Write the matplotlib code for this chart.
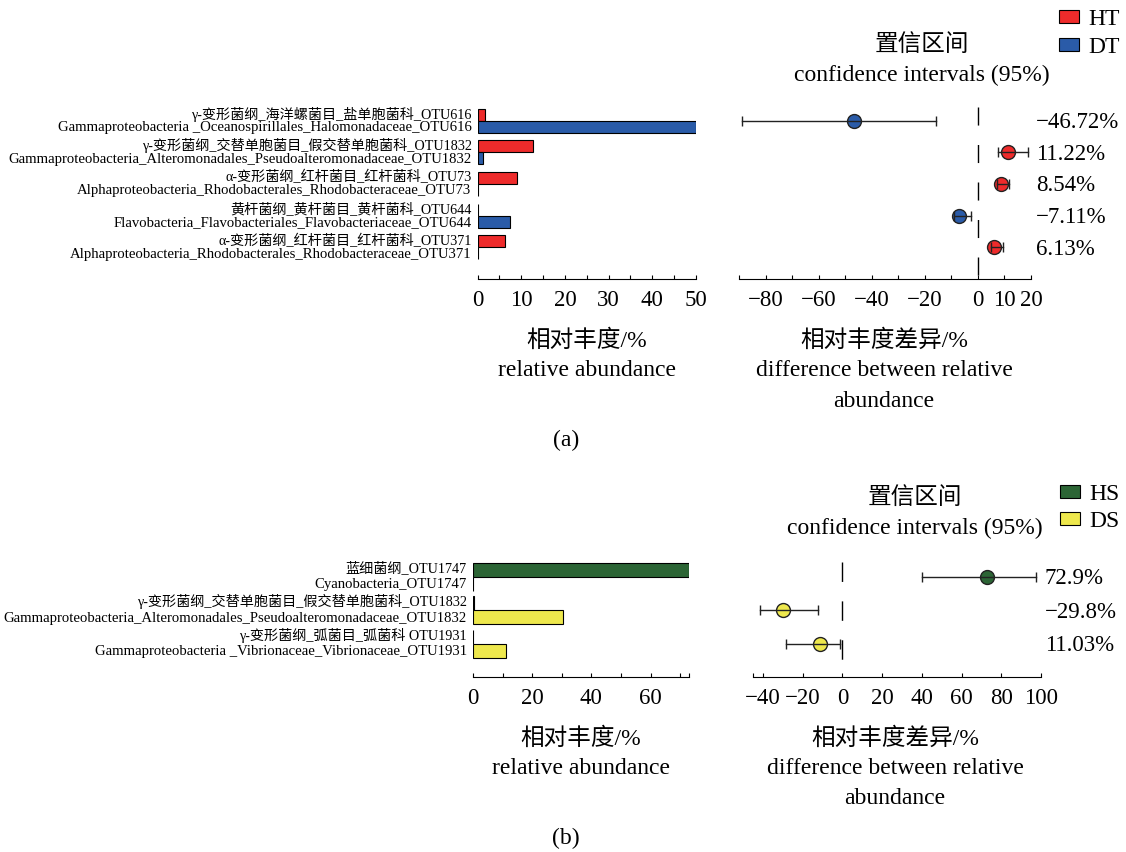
import matplotlib
matplotlib.use("Agg")
import matplotlib.pyplot as plt
from matplotlib.patches import Patch

plt.rcParams['font.family'] = ['Liberation Serif', 'Noto Sans CJK SC']
plt.rcParams['axes.unicode_minus'] = True

W, H = 1126, 852

# ---- panel (a) data
a_cn = ["γ-变形菌纲_海洋螺菌目_盐单胞菌科_OTU616",
        "γ-变形菌纲_交替单胞菌目_假交替单胞菌科_OTU1832",
        "α-变形菌纲_红杆菌目_红杆菌科_OTU73",
        "黄杆菌纲_黄杆菌目_黄杆菌科_OTU644",
        "α-变形菌纲_红杆菌目_红杆菌科_OTU371"]
a_en = ["Gammaproteobacteria _Oceanospirillales_Halomonadaceae_OTU616",
        "Gammaproteobacteria_Alteromonadales_Pseudoalteromonadaceae_OTU1832",
        "Alphaproteobacteria_Rhodobacterales_Rhodobacteraceae_OTU73",
        "Flavobacteria_Flavobacteriales_Flavobacteriaceae_OTU644",
        "Alphaproteobacteria_Rhodobacterales_Rhodobacteraceae_OTU371"]
a_ht = [1.8, 12.7, 9.0, 0.0, 6.4]
a_dt = [50.0, 1.2, 0.0, 7.4, 0.0]
a_diff = [-46.72, 11.22, 8.54, -7.11, 6.13]
a_lo = [-89.0, 7.6, 7.2, -8.9, 4.8]
a_hi = [-15.7, 19.0, 11.8, -2.6, 9.4]
a_txt = ["−46.72%", "11.22%", "8.54%", "−7.11%", "6.13%"]

# ---- panel (b) data
b_cn = ["蓝细菌纲_OTU1747",
        "γ-变形菌纲_交替单胞菌目_假交替单胞菌科_OTU1832",
        "γ-变形菌纲_弧菌目_弧菌科 OTU1931"]
b_en = ["Cyanobacteria_OTU1747",
        "Gammaproteobacteria_Alteromonadales_Pseudoalteromonadaceae_OTU1832",
        "Gammaproteobacteria _Vibrionaceae_Vibrionaceae_OTU1931"]
b_hs = [72.9, 0.5, 0.0]
b_ds = [0.0, 30.4, 11.1]
b_diff = [72.9, -29.8, -11.03]
b_lo = [39.9, -41.4, -28.2]
b_hi = [97.7, -12.2, -1.4]
b_txt = ["72.9%", "−29.8%", "11.03%"]

RED, BLUE = '#EE2B2B', '#2A5BA8'
GREEN, YELLOW = '#2C6535', '#EEE84D'

fig = plt.figure(figsize=(W / 100, H / 100), dpi=100)


def add_ax(x0, y0, x1, y1):
    ax = fig.add_axes([x0 / W, 1 - y1 / H, (x1 - x0) / W, (y1 - y0) / H])
    for s in ['top', 'right', 'left']:
        ax.spines[s].set_visible(False)
    ax.tick_params(axis='y', left=False, labelleft=False)
    ax.tick_params(axis='x', direction='in', length=3, width=0.8,
                   labelsize=16.5, pad=8)
    return ax


def ftxt(x, y, s, **kw):
    fig.text(x / W, 1 - y / H, s, ha='center', va='center', **kw)


def panel(geo, cn, en, g1, g2, diff, lo, hi, txt, c1, c2, names, bh,
          lticks, lt_labels, lxlim, rticks, rt_labels, rxlim, dash):
    n = len(cn)
    rows = list(range(n))
    axl = add_ax(*geo['left'])
    axl.barh([r - bh / 2 for r in rows], g1, height=bh, color=c1,
             edgecolor='black', linewidth=0.8)
    axl.barh([r + bh / 2 for r in rows], g2, height=bh, color=c2,
             edgecolor='black', linewidth=0.8)
    axl.set_ylim(n, -0.5)
    axl.set_xlim(*lxlim)
    axl.set_xticks(lticks, lt_labels)
    wpx = geo['left'][2] - geo['left'][0]
    off = geo['lab_off']
    for r in rows:
        axl.text(-6 / wpx, r - off, cn[r], transform=axl.get_yaxis_transform(),
                 ha='right', va='center', fontsize=10.2)
        axl.text(-6 / wpx, r + off, en[r], transform=axl.get_yaxis_transform(),
                 ha='right', va='center', fontsize=10.6)

    axr = add_ax(*geo['right'])
    axr.set_ylim(n, -0.5)
    axr.set_xlim(*rxlim)
    axr.set_xticks(rticks, rt_labels)
    axr.plot([0, 0], [-0.45, n], color='black', lw=1, linestyle=(0, dash),
             zorder=1)
    tr = matplotlib.transforms.blended_transform_factory(fig.transFigure,
                                                         axr.transData)
    for r in rows:
        col = c1 if diff[r] > 0 else c2
        axr.plot(diff[r], r, 'o', ms=10, mfc=col, mec='#222222', mew=1,
                 zorder=2)
        axr.plot([lo[r], hi[r]], [r, r], color='#222222', lw=1, zorder=3)
        axr.plot([lo[r], hi[r]], [r, r], '|', color='#222222', ms=7.5,
                 mew=1, zorder=3)
        axr.text(geo['pct_x'] / W, r + 0.06, txt[r], transform=tr,
                 ha='left', va='center', fontsize=16.5)

    ty = geo['title_y']
    ftxt(geo['title_x'], ty, '置信区间', fontsize=17)
    ftxt(geo['title_x'], ty + 30, 'confidence intervals (95%)', fontsize=17)
    fig.legend(handles=[Patch(facecolor=c1, edgecolor='black', lw=0.8, label=names[0]),
                        Patch(facecolor=c2, edgecolor='black', lw=0.8, label=names[1])],
               loc='upper right', bbox_to_anchor=(geo['leg'][0] / W, 1 - geo['leg'][1] / H),
               frameon=False, fontsize=17, handlelength=0.85, handleheight=0.45,
               handletextpad=0.42, labelspacing=geo['leg_sp'], borderpad=0,
               borderaxespad=0)

    ly = geo['lab_y']
    lx = (geo['left'][0] + geo['left'][2]) / 2
    ftxt(lx, ly, '相对丰度/%', fontsize=17)
    ftxt(lx, ly + 30, 'relative abundance', fontsize=17)
    ftxt(geo['rlab_x'], ly, '相对丰度差异/%', fontsize=17)
    ftxt(geo['rlab_x'], ly + 30, 'difference between relative', fontsize=17)
    ftxt(geo['rlab_x'], ly + 60, 'abundance', fontsize=17)
    ftxt(566, geo['tag_y'], geo['tag'], fontsize=17)


geo_a = dict(left=(477.5, 105, 696, 279), right=(739, 105, 1031, 279),
             pct_x=1036, title_x=922, title_y=45, leg=(1120, 9), leg_sp=0.3,
             lab_y=341, rlab_x=884, tag_y=440, tag='(a)', lab_off=0.21)
panel(geo_a, a_cn, a_en, a_ht, a_dt, a_diff, a_lo, a_hi, a_txt, RED, BLUE,
      ['HT', 'DT'], 0.38,
      list(range(0, 51, 5)),
      [str(v) if v % 10 == 0 else '' for v in range(0, 51, 5)], (0, 50),
      list(range(-90, 21, 10)),
      ['', '−80', '', '−60', '', '−40', '', '−20', '', '0', '10', '20'],
      (-90, 20), (13, 14))

geo_b = dict(left=(473, 560, 689, 677), right=(753, 560, 1041, 677),
             pct_x=1045, title_x=915, title_y=498, leg=(1120, 484), leg_sp=0.25,
             lab_y=739, rlab_x=895, tag_y=838, tag='(b)', lab_off=0.245)
panel(geo_b, b_cn, b_en, b_hs, b_ds, b_diff, b_lo, b_hi, b_txt, GREEN, YELLOW,
      ['HS', 'DS'], 0.42,
      list(range(0, 71, 10)) + [73],
      ['0', '', '20', '', '40', '', '60', '', ''], (0, 73),
      [-45] + list(range(-40, 101, 20)),
      ['', '−40', '−20', '0', '20', '40', '60', '80', '100'],
      (-45, 100), (14, 14))

fig.savefig('out.png', dpi=100)
